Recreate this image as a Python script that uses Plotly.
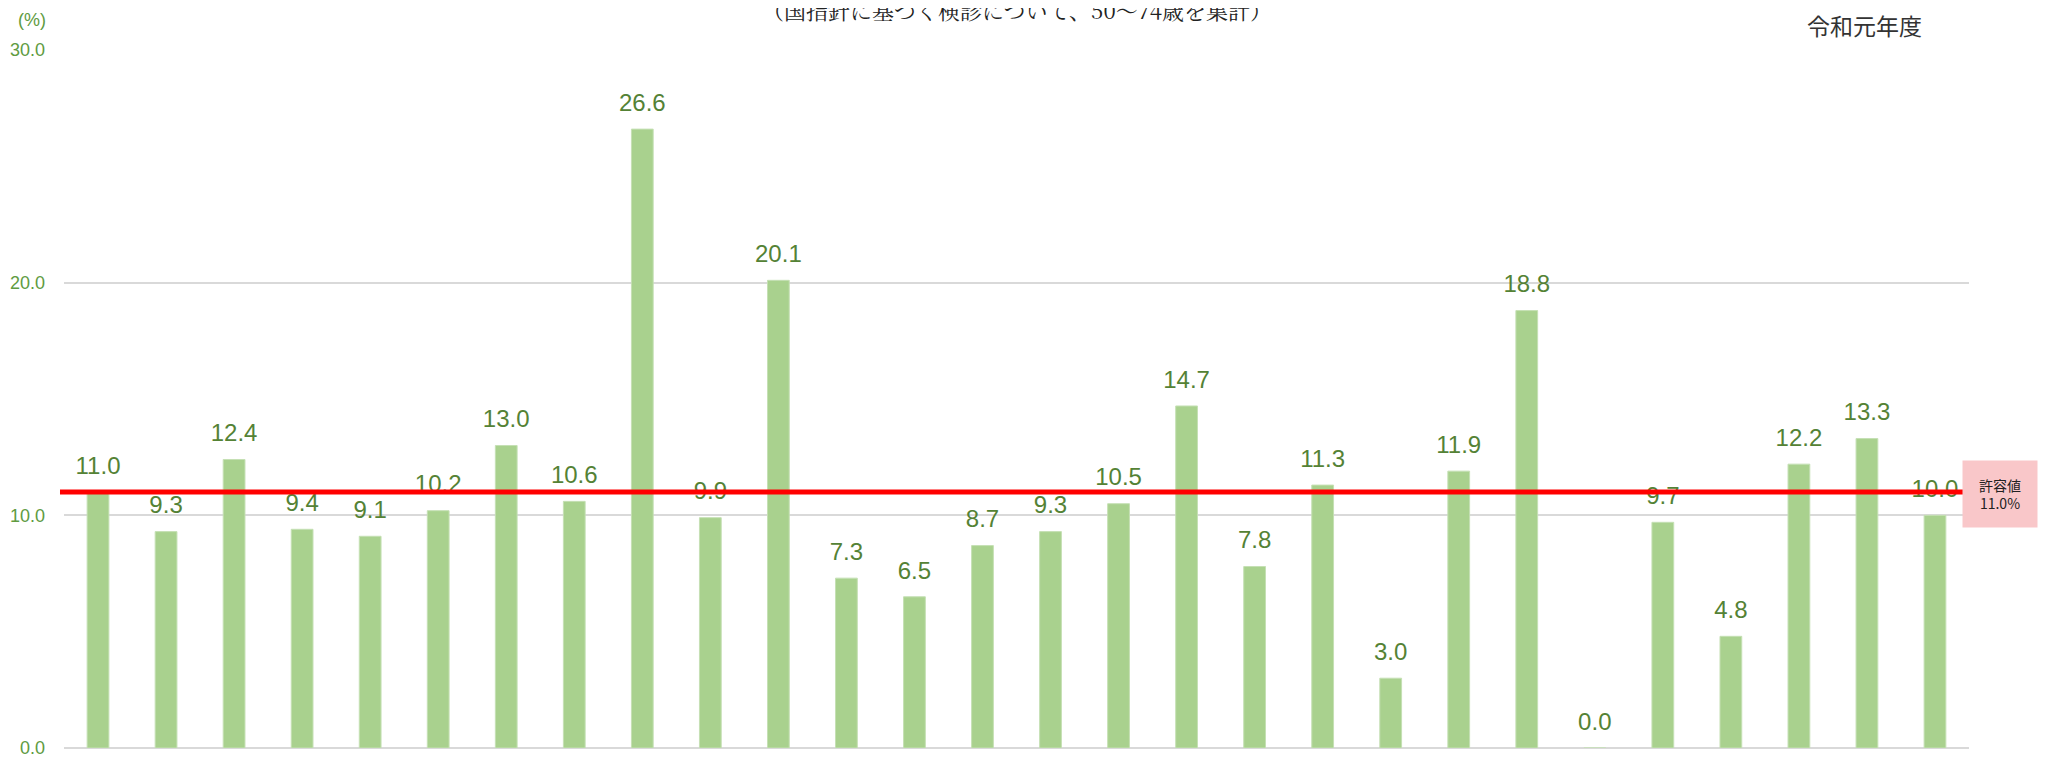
import plotly.graph_objects as go

categories = [f"{i}" for i in range(1, 29)]
values = [11.0, 9.3, 12.4, 9.4, 9.1, 10.2, 13.0, 10.6, 26.6, 9.9, 20.1, 7.3, 6.5, 8.7,
          9.3, 10.5, 14.7, 7.8, 11.3, 3.0, 11.9, 18.8, 0.0, 9.7, 4.8, 12.2, 13.3, 10.0]
threshold = 11.0
y_ticks = [0, 10, 20, 30]
threshold_label = "許容値<br>11.0%"
year_label = "令和元年度"
subtitle = "（国指針に基づく検診について、50～74歳を集計）"

fig = go.Figure()
fig.add_trace(go.Bar(
    x=categories, y=values,
    marker=dict(color="#A9D18E", line=dict(color="#C5E0B4", width=1)),
    hoverinfo="skip",
))
fig.add_trace(go.Scatter(
    x=categories, y=values, mode="markers+text",
    text=[f"{v:.1f}" for v in values], textposition="top center",
    marker=dict(size=18, color="rgba(0,0,0,0)"),
    textfont=dict(family="Liberation Sans, Arial, sans-serif", size=24, color="#548235"),
    cliponaxis=False, hoverinfo="skip", showlegend=False,
))

fig.add_shape(type="line", xref="paper", yref="y", x0=-0.0021, x1=0.9969,
              y0=threshold, y1=threshold, line=dict(color="#FF0000", width=5), layer="above")

fig.add_annotation(xref="paper", yref="y", x=1.0163, y=threshold - 0.1, text=threshold_label,
                   showarrow=False, bgcolor="#F9C7C9", width=72, height=64,
                   font=dict(family="Noto Sans CJK JP", size=14, color="#222222"),
                   align="center", xanchor="center", yanchor="middle")
fig.add_annotation(xref="paper", yref="paper", x=0.945, y=1.036, text=year_label,
                   showarrow=False, font=dict(family="Noto Sans CJK JP", size=23, color="#333333"),
                   xanchor="center", yanchor="middle")
fig.add_annotation(xref="paper", yref="paper", x=0.5, y=1.058, text=subtitle,
                   showarrow=False, font=dict(family="Noto Serif CJK JP, Noto Sans CJK JP", size=22, color="#222222"),
                   xanchor="center", yanchor="middle")
fig.add_annotation(xref="paper", yref="paper", x=-0.0168, y=1.043, text="(%)",
                   showarrow=False, font=dict(family="Liberation Sans", size=18, color="#609B41"),
                   xanchor="center", yanchor="middle")

fig.update_layout(
    width=2038, height=751,
    margin=dict(l=56, r=77, t=42, b=11),
    plot_bgcolor="white", paper_bgcolor="white",
    bargap=0.68, showlegend=False,
    xaxis=dict(range=[-0.5, len(categories) - 0.5], showticklabels=False, showgrid=False,
               zeroline=False, showline=False, ticks="", automargin=False),
    yaxis=dict(range=[0, 30], tickvals=y_ticks, tickformat=".1f",
               showgrid=True, gridcolor="#D9D9D9", gridwidth=2,
               zeroline=True, zerolinecolor="#D9D9D9", zerolinewidth=2,
               tickfont=dict(family="Liberation Sans", size=18, color="#609B41"),
               ticks="", ticklabelstandoff=18, automargin=False),
)

fig.write_html("out.html")
